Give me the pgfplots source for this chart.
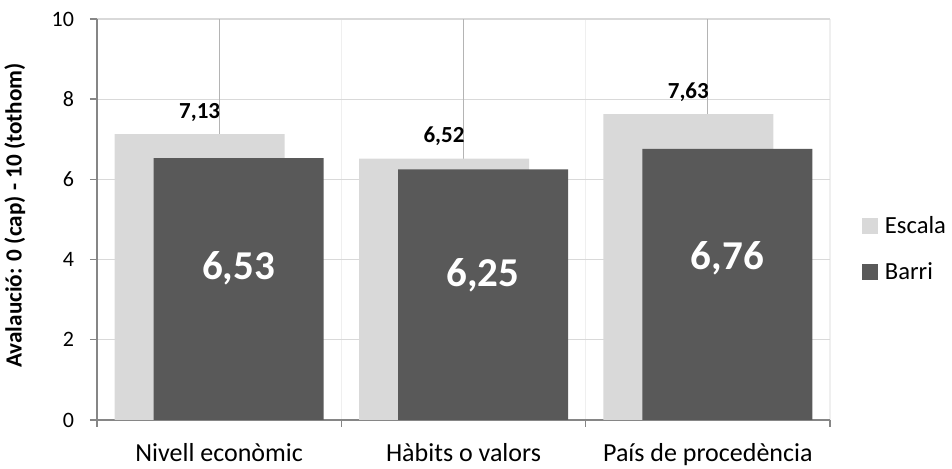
\documentclass[border=0pt]{standalone}
\usepackage{pgfplots}
\pgfplotsset{compat=1.18}
\usepackage{fontspec}
\setmainfont{Carlito}
\definecolor{esc}{HTML}{D9D9D9}
\definecolor{bari}{HTML}{595959}
\definecolor{axl}{HTML}{868686}
\definecolor{gridc}{HTML}{D9D9D9}
\definecolor{gridm}{HTML}{B4B4B4}
\definecolor{gridl}{HTML}{EFEFEF}
\begin{document}
\begin{tikzpicture}
\useasboundingbox (-48.5pt,-24.5pt) rectangle (427.5pt,210pt);
\begin{axis}[
  scale only axis, width=366.5pt, height=200.5pt,
  at={(0,0)}, anchor=south west,
  /pgf/number format/assume math mode=true,
  xmin=-0.5, xmax=2.5, ymin=0, ymax=10,
  ytick={0,2,...,10},
  xtick={-0.5,0.5,1.5,2.5}, xticklabels={},
  extra x ticks={0,1,2},
  extra x tick labels={Nivell econòmic, Hàbits o valors, País de procedència},
  extra x tick style={major tick length=0pt, grid=major, major grid style={gridm, line width=0.6pt}},
  xmajorgrids, ymajorgrids,
  major grid style={gridl, line width=0.6pt},
  y grid style={gridc, line width=0.6pt},
  axis x line*=bottom, axis y line*=left,
  axis line style={axl, line width=0.7pt, -},
  tick style={axl, line width=0.7pt},
  tick align=outside,
  major tick length=3.5pt,
  ticklabel style={text=black},
  yticklabel style={font=\fontsize{11}{13}\selectfont, xshift=-4.5pt},
  xticklabel style={font=\fontsize{13}{15}\selectfont, anchor=base, yshift=-21pt},
  ylabel={\textbf{Avalaució: 0 (cap) - 10 (tothom)}},
  ylabel style={font=\fontsize{11.6}{13}\selectfont, at={(axis description cs:-0.112,0.51)}, anchor=center},
  ybar, bar width=85pt,
  legend style={at={(rel axis cs:1.043,0.426)}, anchor=west, draw=none, fill=none,
    font=\fontsize{12.3}{14}\selectfont, row sep=13pt, inner sep=0pt,
    nodes={inner xsep=0pt, inner ysep=0pt}},
  legend cell align=left,
  legend image code/.code={\fill[#1] (0pt,-4pt) rectangle (8pt,4pt); \path (11.5pt,0pt);},
]
\addplot[fill=esc, draw=none, bar shift=-9.75pt,
  nodes near coords,
  nodes near coords style={font=\bfseries\fontsize{11.5}{13}\selectfont, text=black, anchor=center, yshift=11pt},
  /pgf/number format/.cd, use comma, fixed, fixed zerofill, precision=2]
  coordinates {(0,7.13) (1,6.52) (2,7.63)};
\addlegendentry{Escala}
\addplot[fill=bari, draw=none, bar shift=9.75pt]
  coordinates {(0,6.53) (1,6.25) (2,6.76)};
\addlegendentry{Barri}
\node[text=white, font=\bfseries\fontsize{20.5}{23}\selectfont, xshift=9.75pt] at (axis cs:0,3.79) {6,53};
\node[text=white, font=\bfseries\fontsize{20.5}{23}\selectfont, xshift=9.75pt] at (axis cs:1,3.62) {6,25};
\node[text=white, font=\bfseries\fontsize{20.5}{23}\selectfont, xshift=9.75pt] at (axis cs:2,4.04) {6,76};
\end{axis}
\end{tikzpicture}
\end{document}
